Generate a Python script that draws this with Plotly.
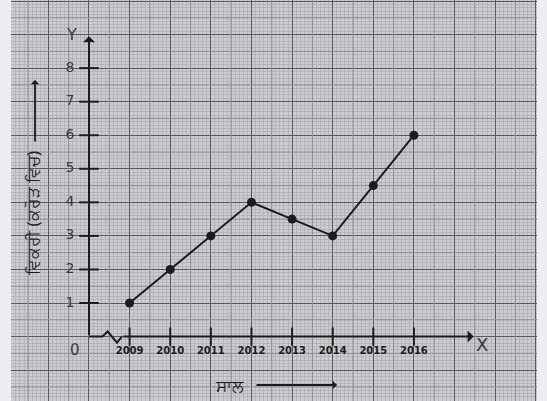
import math
import plotly.graph_objects as go

# ---- data ----
years = [2009, 2010, 2011, 2012, 2013, 2014, 2015, 2016]
sales = [1, 2, 3, 4, 3.5, 3, 4.5, 6]
y_ticks = [1, 2, 3, 4, 5, 6, 7, 8]
x_title = "ਸਾਲ"
y_title = "ਵਿਕਰੀ (ਕਰੋੜ ਵਿਚ)"
origin_year = 2008

# ---- geometry (data units) ----
X_RANGE = [2006.08, 2019.03]
Y_RANGE = [-1.92, 10.03]
X_END = 2017.47
Y_END = 8.95
BREAK_DX = [0, 0.33, 0.46, 0.69, 0.81]
BREAK_DY = [0, 0, 0.15, -0.18, 0]

INK = "#1c1c1e"
LABEL = "#3a3a3e"

W, H = 547, 401
ML, MR = 11, 10


def px(xp):
    return (xp - ML) / (W - ML - MR)


def py(yp):
    return 1 - yp / H


fig = go.Figure()

# graph-paper half-unit lines
hx, hy = [], []
k = math.ceil(X_RANGE[0] * 2)
while k / 2 <= X_RANGE[1]:
    if k % 2:
        hx += [k / 2, k / 2, None]
        hy += [Y_RANGE[0], Y_RANGE[1], None]
    k += 1
k = math.ceil(Y_RANGE[0] * 2)
while k / 2 <= Y_RANGE[1]:
    if k % 2:
        hx += [X_RANGE[0], X_RANGE[1], None]
        hy += [k / 2, k / 2, None]
    k += 1
fig.add_trace(go.Scatter(x=hx, y=hy, mode="lines",
                         line=dict(color="#8e8d93", width=1),
                         hoverinfo="skip", showlegend=False))

# broken x-axis start (zig-zag)
fig.add_trace(go.Scatter(
    x=[origin_year + d for d in BREAK_DX], y=BREAK_DY,
    mode="lines", line=dict(color=INK, width=2),
    hoverinfo="skip", showlegend=False))

# tick marks on axes
fig.add_trace(go.Scatter(
    x=[origin_year] * len(y_ticks), y=y_ticks, mode="markers",
    marker=dict(symbol="line-ew", size=14, line=dict(width=2, color=INK)),
    hoverinfo="skip", showlegend=False))
fig.add_trace(go.Scatter(
    x=years, y=[0] * len(years), mode="markers",
    marker=dict(symbol="line-ns", size=13, line=dict(width=2, color=INK)),
    hoverinfo="skip", showlegend=False))

# tick labels
fig.add_trace(go.Scatter(
    x=[origin_year - 0.47] * len(y_ticks), y=y_ticks, mode="text",
    text=[str(v) for v in y_ticks],
    textfont=dict(family="DejaVu Sans", size=14, color=LABEL),
    hoverinfo="skip", showlegend=False))
fig.add_trace(go.Scatter(
    x=years, y=[-0.45] * len(years), mode="text",
    text=["<b>%d</b>" % v for v in years],
    textfont=dict(family="DejaVu Sans", size=10, color=INK),
    hoverinfo="skip", showlegend=False))

# data line
fig.add_trace(go.Scatter(
    x=years, y=sales, mode="lines+markers",
    line=dict(color=INK, width=2),
    marker=dict(color=INK, size=9),
    name="sales", showlegend=False))

ann = []
# axes with arrows
ann.append(dict(x=origin_year, y=Y_END, ax=origin_year, ay=0,
                xref="x", yref="y", axref="x", ayref="y",
                text="", showarrow=True, arrowhead=1, arrowsize=1,
                arrowwidth=2, arrowcolor=INK))
ann.append(dict(x=X_END, y=0, ax=origin_year + BREAK_DX[-1], ay=0,
                xref="x", yref="y", axref="x", ayref="y",
                text="", showarrow=True, arrowhead=1, arrowsize=1,
                arrowwidth=2, arrowcolor=INK))
# axis letters and origin
ann.append(dict(x=origin_year - 0.42, y=9.0, xref="x", yref="y", text="Y",
                showarrow=False, font=dict(family="DejaVu Sans", size=16, color=LABEL)))
ann.append(dict(x=X_END + 0.2, y=-0.25, xref="x", yref="y", text="X",
                showarrow=False, font=dict(family="DejaVu Sans", size=18, color=LABEL)))
ann.append(dict(x=origin_year - 0.34, y=-0.4, xref="x", yref="y", text="0",
                showarrow=False, font=dict(family="DejaVu Sans", size=15, color=LABEL)))
# axis titles
ann.append(dict(x=px(33), y=py(214), xref="paper", yref="paper", text=y_title,
                showarrow=False, textangle=-90, xanchor="center", yanchor="middle",
                font=dict(family="Noto Sans, DejaVu Sans", size=17, color=INK)))
ann.append(dict(x=px(229), y=py(385), xref="paper", yref="paper", text=x_title,
                showarrow=False, xanchor="center", yanchor="middle",
                font=dict(family="Noto Sans, DejaVu Sans", size=17, color=INK)))
# title arrows
ann.append(dict(x=px(35), y=py(80), ax=0, ay=63, axref="pixel", ayref="pixel",
                xref="paper", yref="paper",
                text="", showarrow=True, arrowhead=1, arrowsize=0.8,
                arrowwidth=1.8, arrowcolor=INK))
ann.append(dict(x=px(337), y=py(385), ax=-82, ay=0, axref="pixel", ayref="pixel",
                xref="paper", yref="paper",
                text="", showarrow=True, arrowhead=1, arrowsize=0.8,
                arrowwidth=1.8, arrowcolor=INK))

grid_axis_common = dict(showticklabels=False, ticks="", zeroline=False,
                        showline=False, fixedrange=True)

fig.update_layout(
    width=W, height=H,
    margin=dict(l=ML, r=MR, t=0, b=0),
    paper_bgcolor="#eeedf1",
    plot_bgcolor="#cdccd0",
    xaxis=dict(range=X_RANGE, dtick=1, tick0=0, showgrid=True,
               gridcolor="#5a595f", gridwidth=1.4,
               minor=dict(dtick=0.1, tick0=0, showgrid=True,
                          gridcolor="#b5b4b9", gridwidth=0.6),
               **grid_axis_common),
    yaxis=dict(range=Y_RANGE, dtick=1, tick0=0, showgrid=True,
               gridcolor="#5a595f", gridwidth=1.4,
               minor=dict(dtick=0.1, tick0=0, showgrid=True,
                          gridcolor="#b5b4b9", gridwidth=0.6),
               **grid_axis_common),
    annotations=ann,
    showlegend=False,
)

fig.write_html("out.html", config={"displayModeBar": False},
               post_script="document.body.style.margin='0';")
